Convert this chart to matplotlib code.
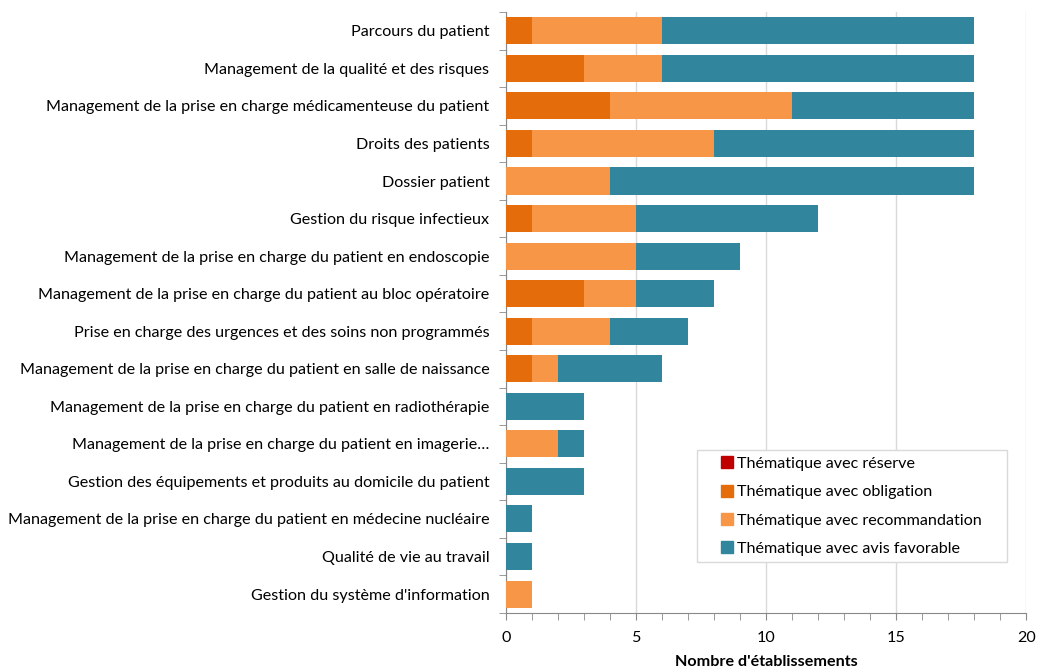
import numpy as np
import matplotlib.pyplot as plt
from matplotlib.ticker import MultipleLocator, FixedLocator
from matplotlib.lines import Line2D
from matplotlib.patches import Rectangle

plt.rcParams['font.family'] = ['Lato', 'DejaVu Sans']

categories = [
    "Parcours du patient",
    "Management de la qualité et des risques",
    "Management de la prise en charge médicamenteuse du patient",
    "Droits des patients",
    "Dossier patient",
    "Gestion du risque infectieux",
    "Management de la prise en charge du patient en endoscopie",
    "Management de la prise en charge du patient au bloc opératoire",
    "Prise en charge des urgences et des soins non programmés",
    "Management de la prise en charge du patient en salle de naissance",
    "Management de la prise en charge du patient en radiothérapie",
    "Management de la prise en charge du patient en imagerie…",
    "Gestion des équipements et produits au domicile du patient",
    "Management de la prise en charge du patient en médecine nucléaire",
    "Qualité de vie au travail",
    "Gestion du système d'information",
]
reserve = [0, 0, 0, 0, 0, 0, 0, 0, 0, 0, 0, 0, 0, 0, 0, 0]
obligation = [1, 3, 4, 1, 0, 1, 0, 3, 1, 1, 0, 0, 0, 0, 0, 0]
recommandation = [5, 3, 7, 7, 4, 4, 5, 2, 3, 1, 0, 2, 0, 0, 0, 1]
favorable = [12, 12, 7, 10, 14, 7, 4, 3, 3, 4, 3, 1, 3, 1, 1, 0]

series = [
    ("Thématique avec réserve", reserve, '#C00000'),
    ("Thématique avec obligation", obligation, '#E46C0A'),
    ("Thématique avec recommandation", recommandation, '#F79646'),
    ("Thématique avec avis favorable", favorable, '#31859C'),
]

fs = 11.6
fig = plt.figure(figsize=(10.41, 6.69), dpi=100)
ax = fig.add_axes([0.486, 0.084, 0.5, 0.898])

y = np.arange(len(categories))
left = np.zeros(len(categories))
for label, vals, color in series:
    vals = np.array(vals, dtype=float)
    ax.barh(y, vals, left=left, height=0.72, color=color, label=label, zorder=3)
    left += vals

ax.set_ylim(len(categories) - 0.5, -0.5)
ax.set_xlim(0, 20)

ax.set_yticks(y)
ax.set_yticklabels(categories, fontsize=fs)
ax.yaxis.set_minor_locator(FixedLocator(np.arange(-0.5, len(categories), 1)))
ax.tick_params(axis='y', which='major', length=0, pad=12)
ax.tick_params(axis='y', which='minor', length=5, color='#898989')

ax.xaxis.set_major_locator(MultipleLocator(5))
ax.xaxis.set_minor_locator(MultipleLocator(1))
ax.tick_params(axis='x', which='both', length=5, color='#898989', labelsize=fs, pad=8)

ax.grid(axis='x', which='major', color='#D9D9D9', linewidth=1, zorder=0)
for s in ['top', 'right']:
    ax.spines[s].set_visible(False)
for s in ['left', 'bottom']:
    ax.spines[s].set_color('#898989')

ax.set_xlabel("Nombre d'établissements", fontsize=fs, fontweight='bold', va='center')
ax.xaxis.set_label_coords(0.5, -0.0815)

# legend box drawn separately, Excel style
ax.add_patch(Rectangle((0.3673, 0.0849), 0.5962, 0.1863, transform=ax.transAxes,
                       facecolor='white', edgecolor='#D9D9D9', linewidth=1,
                       zorder=4, clip_on=False))
handles = [Line2D([], [], marker='s', linestyle='none', markersize=8,
                  markerfacecolor=c, markeredgecolor=c) for _, _, c in series]
leg = ax.legend(handles, [s[0] for s in series], loc='upper left',
                bbox_to_anchor=(0.412, 0.2597), fontsize=fs, frameon=False,
                handlelength=0.8, handletextpad=0.25, labelspacing=0.87,
                borderpad=0, borderaxespad=0)
leg.set_zorder(5)

fig.savefig('out.png', dpi=100)
